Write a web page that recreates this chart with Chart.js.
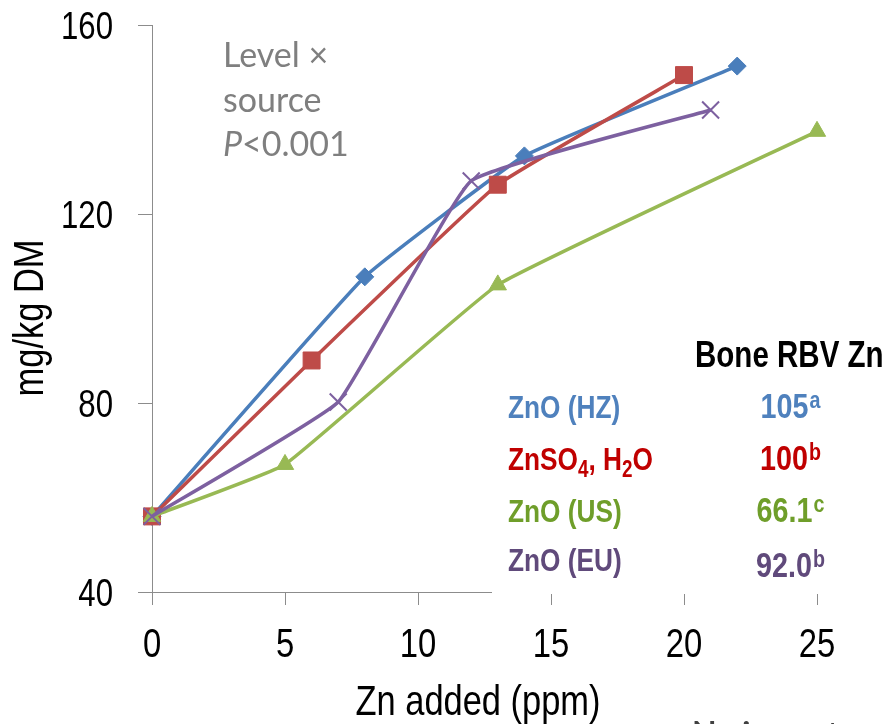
<!DOCTYPE html>
<html>
<head>
<meta charset="utf-8">
<script src="https://cdn.jsdelivr.net/npm/chart.js@4.4.1/dist/chart.umd.min.js"></script>
<style>
  html, body { margin: 0; padding: 0; background: #fff; }
  #wrap { width: 891px; height: 724px; }
</style>
</head>
<body>
<div id="wrap"><canvas id="zincChart" width="891" height="724"></canvas></div>
<script>
// Zn added (ppm) vs. mg/kg DM, one pair of arrays per source
const xHZ  = [0, 8, 14, 22];
const yHZ  = [56, 106.7, 132.3, 151.3];
const xSO4 = [0, 6, 13, 20];
const ySO4 = [56, 89, 126.2, 149.4];
const xUS  = [0, 5, 13, 25];
const yUS  = [56, 67, 105, 137.5];
const xEU  = [0, 7, 12, 21];
const yEU  = [56, 80.2, 127, 142];

const xTicks = [0, 5, 10, 15, 20, 25];
const yTicks = [40, 80, 120, 160];

// Bone RBV Zn table
const sourceNames = ['ZnO (HZ)', 'ZnSO4, H2O', 'ZnO (US)', 'ZnO (EU)'];
const rbvValues   = ['105', '100', '66.1', '92.0'];
const rbvLetters  = ['a', 'b', 'c', 'b'];

const lineColors = ['#4A7EBB', '#BE4B48', '#98B954', '#7D60A0'];
const textColors = ['#4F81BD', '#C00000', '#6F9E2A', '#604A7B'];

// no Arial Narrow on the box: squeeze Liberation Sans instead
const SANS = "'Liberation Sans', Arial, sans-serif";
const SOFT = "Lato, 'Open Sans', sans-serif";
const SQUEEZE = 0.82;

function pts(xs, ys) {
    return xs.map((x, i) => ({ x: x, y: ys[i] }));
}

function narrowWidth(ctx, text, font) {
    ctx.font = font;
    return ctx.measureText(text).width * SQUEEZE;
}

function drawNarrow(ctx, text, x, y, font, align) {
    ctx.save();
    ctx.font = font;
    ctx.textAlign = align || 'left';
    ctx.textBaseline = 'alphabetic';
    ctx.translate(x, y);
    ctx.scale(SQUEEZE, 1);
    ctx.fillText(text, 0, 0);
    ctx.restore();
}

// "ZnSO4, H2O" with the digits set as subscripts
function drawFormula(ctx, text, x, y, size) {
    const subs = text.indexOf('SO') > 0;
    let cx = x;
    text.split(/(\d)/).filter(p => p !== '').forEach(p => {
        const isSub = subs && /^\d$/.test(p);
        const font = isSub ? `bold ${Math.round(size * 0.72)}px ${SANS}` : `bold ${size}px ${SANS}`;
        drawNarrow(ctx, p, cx, isSub ? y + 7 : y, font);
        cx += narrowWidth(ctx, p, font);
    });
}

const overlay = {
    id: 'overlay',
    afterDraw(chart) {
        const ctx = chart.ctx;
        const xs = chart.scales.x;
        const ys = chart.scales.y;
        ctx.save();

        // tick labels from the library's scales
        ctx.fillStyle = '#000';
        ys.ticks.forEach(t => {
            drawNarrow(ctx, String(t.value), 113, ys.getPixelForValue(t.value) + 14, `38px ${SANS}`, 'right');
        });
        xs.ticks.forEach(t => {
            drawNarrow(ctx, String(t.value), xs.getPixelForValue(t.value), 657, `40px ${SANS}`, 'center');
        });

        // axis titles
        drawNarrow(ctx, 'Zn added (ppm)', 478, 715, `42px ${SANS}`, 'center');
        ctx.save();
        ctx.translate(43, 318);
        ctx.rotate(-Math.PI / 2);
        drawNarrow(ctx, 'mg/kg DM', 0, 0, `42px ${SANS}`, 'center');
        ctx.restore();

        // white text box of the table sits over the x axis line
        ctx.fillStyle = '#fff';
        ctx.fillRect(492, 330, 399, 264);

        // Level x source note
        ctx.fillStyle = '#7F7F7F';
        ctx.textAlign = 'left';
        ctx.textBaseline = 'alphabetic';
        ctx.font = `34px ${SOFT}`;
        ctx.fillText('Level \u00d7', 223, 67);
        ctx.fillText('source', 223, 112);
        ctx.font = `italic 34px ${SOFT}`;
        ctx.fillText('P', 223, 156);
        const pw = ctx.measureText('P').width;
        ctx.font = `34px ${SOFT}`;
        ctx.fillText('<0.001', 223 + pw, 156);

        // table heading
        ctx.fillStyle = '#000';
        drawNarrow(ctx, 'Bone RBV Zn', 695, 367, `bold 36px ${SANS}`);

        const rowY = [418, 470, 522, 571];
        sourceNames.forEach((name, i) => {
            ctx.fillStyle = textColors[i];
            drawFormula(ctx, name, 508, rowY[i], 32);

            const vFont = `bold 35px ${SANS}`;
            const lFont = `bold 24px ${SANS}`;
            const vw = narrowWidth(ctx, rbvValues[i], vFont);
            const lw = narrowWidth(ctx, rbvLetters[i], lFont);
            const start = 790 - (vw + lw) / 2;
            const vy = i === 3 ? rowY[i] + 6 : rowY[i];
            drawNarrow(ctx, rbvValues[i], start, vy, vFont);
            drawNarrow(ctx, rbvLetters[i], start + vw + 1, vy - 10, lFont);
        });

        // next slide bullet, cut by the bottom edge
        ctx.fillStyle = '#404040';
        ctx.font = `bold 40px 'DejaVu Sans', sans-serif`;
        ctx.fillText('\u25aa', 648, 746);
        ctx.font = `bold 32px ${SOFT}`;
        ctx.fillText('No impact on', 692, 745);

        ctx.restore();
    }
};

const ctx = document.getElementById('zincChart').getContext('2d');
const chart = new Chart(ctx, {
    type: 'line',
    data: {
        datasets: [
            { label: sourceNames[0], data: pts(xHZ, yHZ), borderColor: lineColors[0], backgroundColor: lineColors[0],
              pointStyle: 'rectRot', pointRadius: 9, order: 4 },
            { label: sourceNames[1], data: pts(xSO4, ySO4), borderColor: lineColors[1], backgroundColor: lineColors[1],
              pointStyle: 'rect', pointRadius: 12, order: 3 },
            { label: sourceNames[2], data: pts(xUS, yUS), borderColor: lineColors[2], backgroundColor: lineColors[2],
              pointStyle: 'triangle', pointRadius: 10, order: 2 },
            { label: sourceNames[3], data: pts(xEU, yEU), borderColor: lineColors[3], backgroundColor: lineColors[3],
              pointStyle: 'crossRot', pointRadius: 12, pointBorderWidth: 2, order: 1 }
        ]
    },
    options: {
        responsive: false,
        animation: false,
        clip: false,
        layout: { padding: { top: 25, right: 74, left: 0, bottom: 0 } },
        elements: {
            line: { borderWidth: 3.5, tension: 0.1, fill: false },
            point: { borderWidth: 1 }
        },
        plugins: {
            legend: { display: false },
            tooltip: { enabled: false }
        },
        scales: {
            x: {
                type: 'linear',
                min: 0,
                max: 25,
                afterBuildTicks: s => { s.ticks = xTicks.map(v => ({ value: v })); },
                afterFit: s => { s.height = 132; },
                ticks: { display: false },
                grid: { drawOnChartArea: false, tickLength: 13, color: '#8C8C8C' },
                border: { color: '#8C8C8C', width: 1 }
            },
            y: {
                min: 40,
                max: 160,
                afterBuildTicks: s => { s.ticks = yTicks.map(v => ({ value: v })); },
                afterFit: s => { s.width = 152; },
                ticks: { display: false },
                grid: { drawOnChartArea: false, tickLength: 14, color: '#8C8C8C' },
                border: { color: '#8C8C8C', width: 1 }
            }
        }
    },
    plugins: [overlay]
});
</script>
</body>
</html>
